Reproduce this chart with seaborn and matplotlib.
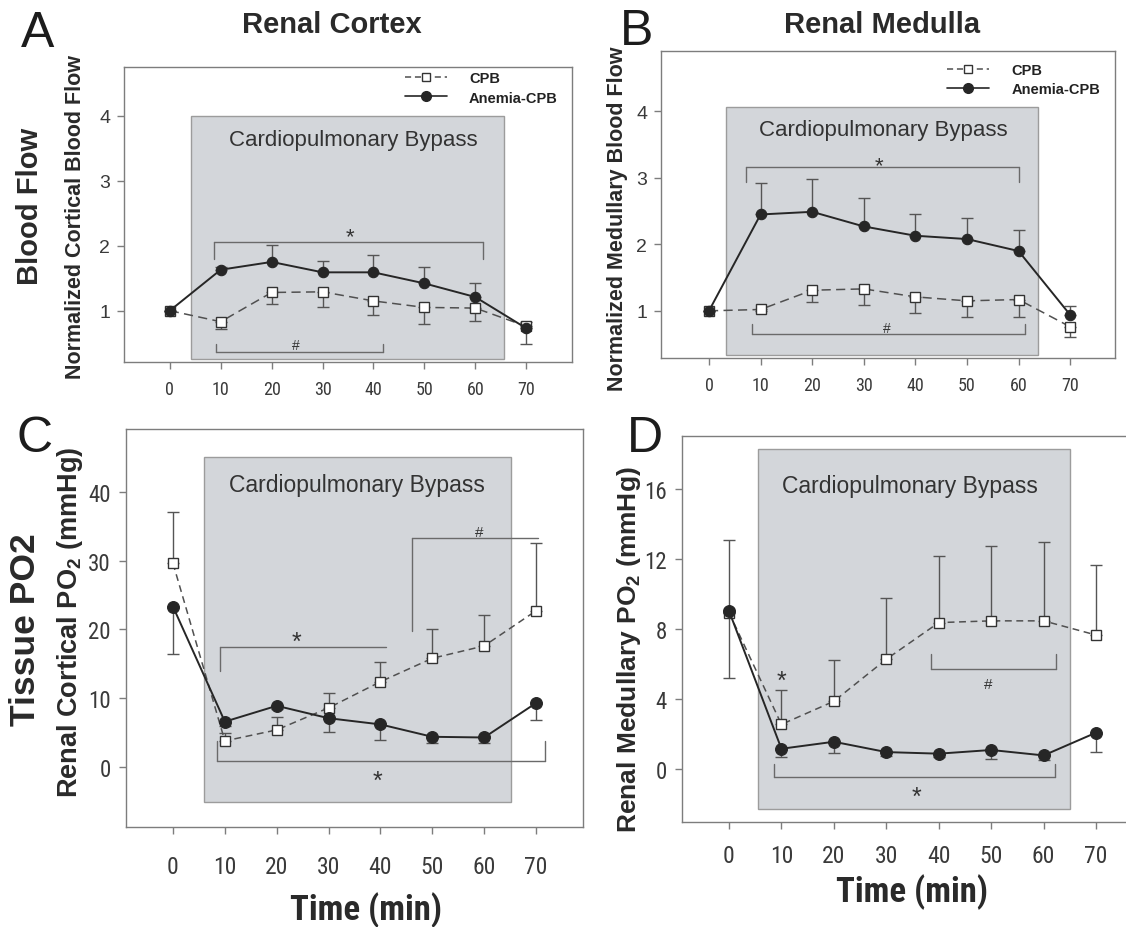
import matplotlib
matplotlib.use("Agg")
import matplotlib.pyplot as plt
from matplotlib import font_manager
from matplotlib.lines import Line2D
from matplotlib.patches import Rectangle
import numpy as np
import pandas as pd
import seaborn as sns

# ---------------------------------------------------------------- data
time_min = [0, 10, 20, 30, 40, 50, 60, 70]
time_ticks = [0, 10, 20, 30, 40, 50, 60, 70]

# Renal cortex blood flow (normalized)
cortex_flow_cpb = [1.00, 0.83, 1.28, 1.29, 1.15, 1.05, 1.04, 0.76]
cortex_flow_cpb_sem = [0.0, 0.11, 0.17, 0.24, 0.22, 0.26, 0.20, 0.27]
cortex_flow_anemia = [1.00, 1.63, 1.75, 1.59, 1.59, 1.42, 1.21, 0.73]
cortex_flow_anemia_sem = [0.0, 0.04, 0.26, 0.17, 0.26, 0.25, 0.21, 0.10]

# Renal medulla blood flow (normalized)
medulla_flow_cpb = [1.00, 1.02, 1.31, 1.33, 1.21, 1.15, 1.17, 0.76]
medulla_flow_cpb_sem = [0.0, 0.03, 0.18, 0.24, 0.24, 0.24, 0.27, 0.16]
medulla_flow_anemia = [1.00, 2.45, 2.49, 2.27, 2.13, 2.08, 1.90, 0.94]
medulla_flow_anemia_sem = [0.0, 0.47, 0.49, 0.43, 0.33, 0.32, 0.31, 0.13]

# Renal cortical tissue PO2 (mmHg)
cortex_po2_cpb = [29.6, 3.8, 5.4, 8.6, 12.4, 15.8, 17.6, 22.7]
cortex_po2_cpb_sem = [7.5, 1.2, 1.9, 2.1, 2.9, 4.2, 4.5, 9.9]
cortex_po2_anemia = [23.3, 6.6, 8.9, 7.1, 6.2, 4.4, 4.3, 9.3]
cortex_po2_anemia_sem = [6.9, 0.6, 0.5, 2.0, 2.2, 0.9, 0.8, 2.5]

# Renal medullary tissue PO2 (mmHg)
medulla_po2_cpb = [8.95, 2.57, 3.89, 6.29, 8.38, 8.48, 8.48, 7.67]
medulla_po2_cpb_sem = [4.15, 1.94, 2.34, 3.48, 3.79, 4.28, 4.51, 4.01]
medulla_po2_anemia = [9.05, 1.18, 1.58, 0.99, 0.90, 1.11, 0.80, 2.10]
medulla_po2_anemia_sem = [3.86, 0.46, 0.63, 0.20, 0.20, 0.54, 0.27, 1.09]

series_names = ["CPB", "Anemia-CPB"]
bypass_label = "Cardiopulmonary Bypass"

# ---------------------------------------------------------------- fonts
sns.set_theme(style="white")
available = {f.name for f in font_manager.fontManager.ttflist}


def pick(*names):
    for n in names:
        if n in available:
            return n
    return "DejaVu Sans"


SANS = pick("Liberation Sans", "Arimo", "DejaVu Sans")
NARROW = pick("Liberation Sans Narrow", "Roboto Condensed", "DejaVu Sans Condensed", SANS)
plt.rcParams["font.family"] = [SANS, "DejaVu Sans"]
plt.rcParams["mathtext.fontset"] = "custom"
plt.rcParams["mathtext.rm"] = SANS
plt.rcParams["mathtext.bf"] = SANS + ":bold"

TEXT = "#1c1c1c"
TICKTXT = "#3a3a3a"
SPINE = "#7d7d7d"
SHADE = "#d3d6da"
SHADE_EDGE = "#9c9c9c"
ANEMIA = "#262626"
CPB_LINE = "#505050"
ERR = "#555555"
BRACKET = "#6a6a6a"

W, H = 1126, 928
fig = plt.figure(figsize=(W / 100, H / 100), dpi=100)
fig.patch.set_facecolor("white")


def px_axes(left, top, right, bottom):
    return fig.add_axes([left / W, 1 - bottom / H, (right - left) / W, (bottom - top) / H])


def fig_text(x, y, s, **kw):
    return fig.text(x / W, 1 - y / H, s, **kw)


def draw_panel(ax, cpb, cpb_sem, anemia, anemia_sem, cpb_err_up, xlim, ylim, yticks,
               shade, label_xy, big, ms_circle, ms_square):
    df = pd.DataFrame({"time": time_min, "cpb": cpb, "anemia": anemia})
    zero = [0.0] * len(time_min)

    # bypass period
    x0, x1, y0, y1 = shade
    ax.add_patch(Rectangle((x0, y0), x1 - x0, y1 - y0, facecolor=SHADE,
                           edgecolor=SHADE_EDGE, lw=1.0, zorder=0))
    ax.text(label_xy[0], label_xy[1], bypass_label, ha="center", va="center",
            fontsize=16.5 if big else 16, color="#333333", zorder=1)

    # one-sided SEM bars: pointing away from the other group
    if cpb_err_up:
        cpb_yerr, an_yerr = [zero, cpb_sem], [anemia_sem, zero]
    else:
        cpb_yerr, an_yerr = [cpb_sem, zero], [zero, anemia_sem]
    ax.errorbar(time_min, cpb, yerr=cpb_yerr, fmt="none", ecolor=ERR,
                elinewidth=1.0, capsize=4, capthick=1.0, zorder=2)
    ax.errorbar(time_min, anemia, yerr=an_yerr, fmt="none", ecolor=ERR,
                elinewidth=1.0, capsize=4, capthick=1.0, zorder=2)

    dash = (0, (6, 3.5)) if not big else (0, (4.5, 3))
    sns.lineplot(data=df, x="time", y="cpb", ax=ax, color=CPB_LINE, linestyle=dash,
                 linewidth=1.1, marker="s", markersize=ms_square, markerfacecolor="white",
                 markeredgecolor="#333333", markeredgewidth=1.0, errorbar=None,
                 legend=False, zorder=3)
    sns.lineplot(data=df, x="time", y="anemia", ax=ax, color=ANEMIA, linestyle="-",
                 linewidth=1.4, marker="o", markersize=ms_circle, markerfacecolor=ANEMIA,
                 markeredgecolor=ANEMIA, markeredgewidth=0.8, errorbar=None,
                 legend=False, zorder=4)

    ax.set_xlim(*xlim)
    ax.set_ylim(*ylim)
    ax.set_xticks(time_ticks)
    ax.set_yticks(yticks)
    ax.set_xlabel("")
    ax.set_ylabel("")
    for sp in ax.spines.values():
        sp.set_visible(True)
        sp.set_color(SPINE)
        sp.set_linewidth(1.0)
    ax.set_facecolor("white")


def bracket(ax, x0, x1, y, y_end, left=True, right=True):
    ax.plot([x0, x1], [y, y], color=BRACKET, lw=1.0, zorder=2)
    if left:
        ax.plot([x0, x0], [y, y_end], color=BRACKET, lw=1.0, zorder=2)
    if right:
        ax.plot([x1, x1], [y, y_end], color=BRACKET, lw=1.0, zorder=2)


def mark(ax, x, y, s, fs):
    # place glyph ink centre on (x, y)
    frac = 0.58 if s == "*" else 0.36
    ax.annotate(s, xy=(x, y), xytext=(0, -frac * fs), textcoords="offset points",
                ha="center", va="baseline", fontsize=fs, color="#333333", zorder=5)


def legend(ax, anchor):
    handles = [
        Line2D([], [], color=CPB_LINE, linestyle=(0, (4, 2.5)), lw=1.1, marker="s",
               markersize=6, markerfacecolor="white", markeredgecolor="#333333"),
        Line2D([], [], color=ANEMIA, linestyle="-", lw=1.2, marker="o",
               markersize=7, markerfacecolor=ANEMIA, markeredgecolor=ANEMIA),
    ]
    ax.legend(handles, series_names, loc="upper right", bbox_to_anchor=anchor,
              frameon=False, borderaxespad=0, borderpad=0, handlelength=2.9,
              handletextpad=1.5, labelspacing=0.35,
              prop={"family": SANS, "weight": "bold", "size": 10.5},
              labelcolor="#222222")


# ---------------------------------------------------------------- panel A
axA = px_axes(124, 68, 572, 363)
draw_panel(axA, cortex_flow_cpb, cortex_flow_cpb_sem, cortex_flow_anemia,
           cortex_flow_anemia_sem, cpb_err_up=False, xlim=(-9.0, 79.0),
           ylim=(0.21, 4.75), yticks=[1, 2, 3, 4], shade=(4.1, 65.6, 0.25, 4.0),
           label_xy=(36.0, 3.63), big=False, ms_circle=7.5, ms_square=6.5)
bracket(axA, 8.6, 61.5, 2.06, 1.80)
mark(axA, 35.4, 2.25, "*", 16)
bracket(axA, 9.0, 41.8, 0.36, 0.49)
mark(axA, 24.8, 0.49, "#", 10)
legend(axA, (0.968, 0.985))

# ---------------------------------------------------------------- panel B
axB = px_axes(661, 52, 1115, 359)
draw_panel(axB, medulla_flow_cpb, medulla_flow_cpb_sem, medulla_flow_anemia,
           medulla_flow_anemia_sem, cpb_err_up=False, xlim=(-9.3, 78.7),
           ylim=(0.29, 4.91), yticks=[1, 2, 3, 4], shade=(3.3, 63.8, 0.33, 4.06),
           label_xy=(33.7, 3.73), big=False, ms_circle=7.5, ms_square=6.5)
bracket(axB, 7.2, 60.0, 3.16, 2.94)
mark(axB, 33.0, 3.30, "*", 16)
bracket(axB, 8.3, 61.2, 0.65, 0.80)
mark(axB, 34.5, 0.76, "#", 10)
legend(axB, (0.967, 0.962))

# ---------------------------------------------------------------- panel C
axC = px_axes(126, 430, 583, 828)
draw_panel(axC, cortex_po2_cpb, cortex_po2_cpb_sem, cortex_po2_anemia,
           cortex_po2_anemia_sem, cpb_err_up=True, xlim=(-9.06, 79.06),
           ylim=(-8.7, 49.1), yticks=[0, 10, 20, 30, 40], shade=(6.0, 65.1, -5.1, 45.1),
           label_xy=(35.5, 41.1), big=True, ms_circle=8.5, ms_square=7)
bracket(axC, 9.1, 41.1, 17.5, 14.0, right=False)
mark(axC, 23.9, 19.3, "*", 18)
bracket(axC, 46.0, 70.4, 33.3, 19.7, right=False)
mark(axC, 59.0, 34.4, "#", 11)
bracket(axC, 8.4, 71.7, 0.9, 3.8)
mark(axC, 39.4, -0.9, "*", 18)

# ---------------------------------------------------------------- panel D
axD = px_axes(682, 437, 1180, 823)
draw_panel(axD, medulla_po2_cpb, medulla_po2_cpb_sem, medulla_po2_anemia,
           medulla_po2_anemia_sem, cpb_err_up=True, xlim=(-8.96, 86.0),
           ylim=(-3.0, 19.03), yticks=[0, 4, 8, 12, 16], shade=(5.5, 65.0, -2.23, 18.3),
           label_xy=(34.5, 16.2), big=True, ms_circle=8.5, ms_square=7)
mark(axD, 10.0, 5.5, "*", 18)
bracket(axD, 38.5, 62.4, 5.71, 6.57)
mark(axD, 49.4, 4.97, "#", 11)
bracket(axD, 8.5, 62.2, -0.42, 0.29)
mark(axD, 35.8, -1.14, "*", 18)

# ---------------------------------------------------------------- ticks
for ax in (axA, axB):
    ax.tick_params(axis="x", bottom=True, direction="out", length=5, width=1,
                   color=SPINE, labelcolor=TICKTXT, labelsize=13, pad=8,
                   labelfontfamily=NARROW)
    ax.tick_params(axis="y", left=True, direction="out", length=5, width=1,
                   color=SPINE, labelcolor=TICKTXT, labelsize=14, pad=5)
axC.tick_params(axis="x", bottom=True, direction="out", length=5, width=1,
                color=SPINE, labelcolor=TICKTXT, labelsize=17, pad=15,
                labelfontfamily=NARROW)
axD.tick_params(axis="x", bottom=True, direction="out", length=5, width=1,
                color=SPINE, labelcolor=TICKTXT, labelsize=17, pad=11,
                labelfontfamily=NARROW)
for ax in (axC, axD):
    ax.tick_params(axis="y", left=True, direction="out", length=5, width=1,
                   color=SPINE, labelcolor=TICKTXT, labelsize=16.5, pad=6,
                   labelfontfamily=NARROW)

# ---------------------------------------------------------------- labels
fig_text(38, 47, "A", fontsize=36, ha="center", va="baseline", color=TEXT)
fig_text(637, 45, "B", fontsize=36, ha="center", va="baseline", color=TEXT)
fig_text(35, 452, "C", fontsize=36, ha="center", va="baseline", color=TEXT)
fig_text(645, 452, "D", fontsize=36, ha="center", va="baseline", color=TEXT)

fig_text(332, 33, "Renal Cortex", fontsize=21, fontweight="bold", ha="center",
         va="baseline", color="#2a2a2a")
fig_text(882, 33, "Renal Medulla", fontsize=21, fontweight="bold", ha="center",
         va="baseline", color="#2a2a2a")

fig_text(30, 206, "Blood Flow", fontsize=21, fontweight="bold", rotation=90,
         ha="center", va="center", color="#2a2a2a")
fig_text(26, 630, "Tissue PO2", fontsize=25.5, fontweight="bold", rotation=90,
         ha="center", va="center", color="#2a2a2a")

fig_text(76, 217, "Normalized Cortical Blood Flow", fontsize=15.5, fontweight="bold",
         rotation=90, ha="center", va="center", color="#2a2a2a")
fig_text(617, 219, "Normalized Medullary Blood Flow", fontsize=15.5, fontweight="bold",
         rotation=90, ha="center", va="center", color="#2a2a2a")
fig_text(70, 622, r"Renal Cortical PO$_\mathbf{2}$ (mmHg)", fontsize=19.5,
         fontweight="bold", rotation=90, ha="center", va="center", color="#2a2a2a")
fig_text(629, 650, r"Renal Medullary PO$_\mathbf{2}$ (mmHg)", fontsize=19,
         fontweight="bold", rotation=90, ha="center", va="center", color="#2a2a2a")

fig_text(366, 910, "Time (min)", fontsize=25, fontweight="bold", ha="center",
         va="center", color="#2a2a2a", family=[NARROW, SANS])
fig_text(912, 892, "Time (min)", fontsize=25, fontweight="bold", ha="center",
         va="center", color="#2a2a2a", family=[NARROW, SANS])

fig.savefig("out.png", dpi=100, facecolor="white")
